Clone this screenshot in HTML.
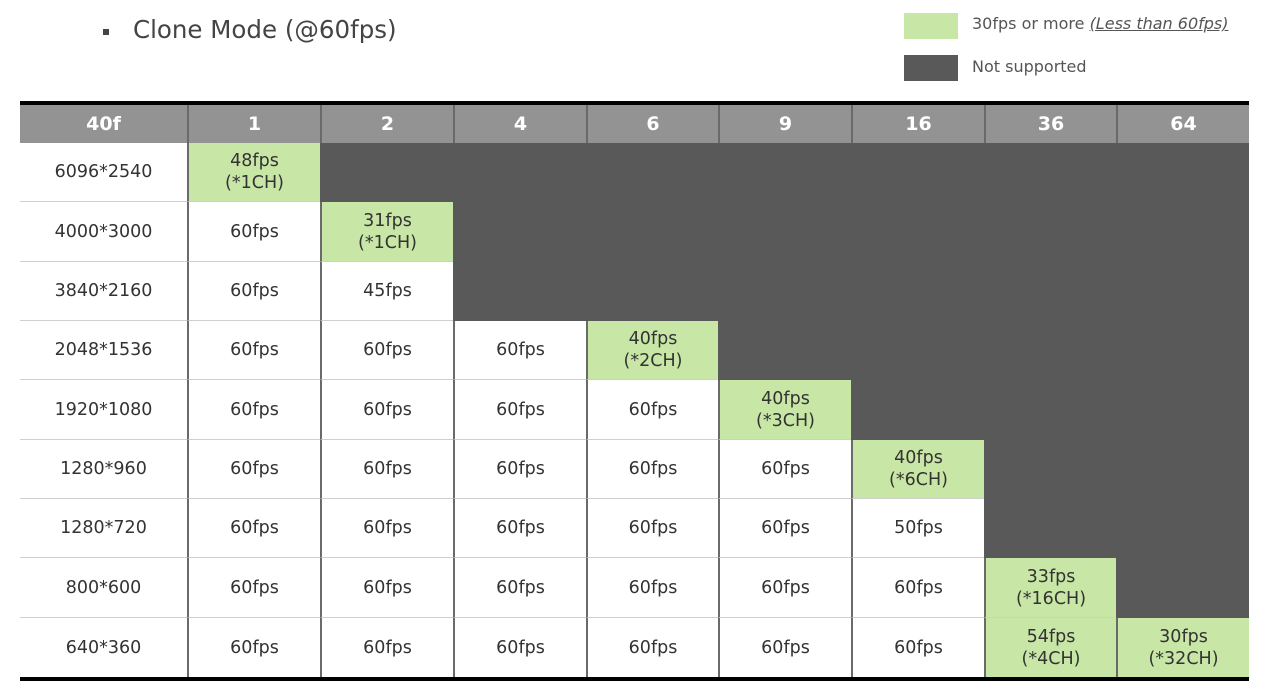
<!DOCTYPE html>
<html><head><meta charset="utf-8"><style>
body{margin:0;width:1262px;height:690px;background:#fff;font-family:"DejaVu Sans","Liberation Sans",sans-serif;position:relative;overflow:hidden}
.a{position:absolute}
.c{position:absolute;display:flex;align-items:center;justify-content:center;text-align:center;color:#333;font-size:17.5px;line-height:22px;box-sizing:border-box}
.h{background:#939393;color:#fff;font-weight:bold;font-size:19px}
</style></head><body>
<div class="a" style="left:103px;top:29px;width:6px;height:6px;background:#444"></div>
<div class="a" style="left:133px;top:15px;font-size:24.5px;color:#444">Clone Mode (@60fps)</div>
<div class="a" style="left:904px;top:13px;width:54px;height:26px;background:#c8e6a5"></div>
<div class="a" style="left:972px;top:14px;font-size:16px;color:#555">30fps or more <i style="text-decoration:underline">(Less than 60fps)</i></div>
<div class="a" style="left:904px;top:55px;width:54px;height:26px;background:#595959"></div>
<div class="a" style="left:972px;top:57px;font-size:16px;color:#555">Not supported</div>
<div id="t"></div>
<script>
var X=[20,187,320,453,586,718,851,984,1116,1249];
var Y=[143,202,262,321,380,440,499,558,618,677];
var H=["40f","1","2","4","6","9","16","36","64"];
var R=[["6096*2540","g48fps<br>(*1CH)"],["4000*3000","60fps","g31fps<br>(*1CH)"],["3840*2160","60fps","45fps"],
["2048*1536","60fps","60fps","60fps","g40fps<br>(*2CH)"],["1920*1080","60fps","60fps","60fps","60fps","g40fps<br>(*3CH)"],
["1280*960","60fps","60fps","60fps","60fps","60fps","g40fps<br>(*6CH)"],["1280*720","60fps","60fps","60fps","60fps","60fps","50fps"],
["800*600","60fps","60fps","60fps","60fps","60fps","60fps","g33fps<br>(*16CH)"],["640*360","60fps","60fps","60fps","60fps","60fps","60fps","g54fps<br>(*4CH)","g30fps<br>(*32CH)"]];
var s='<div class="a" style="left:20px;top:101px;width:1229px;height:4px;background:#000"></div>';
s+='<div class="a" style="left:20px;top:677px;width:1229px;height:4px;background:#000"></div>';
for(var i=0;i<9;i++){s+='<div class="c h" style="left:'+X[i]+'px;top:105px;width:'+(X[i+1]-X[i])+'px;height:38px;'+(i?'border-left:2px solid #6a6a6a':'')+'">'+H[i]+'</div>';}
for(var r=0;r<9;r++)for(var i=0;i<9;i++){var v=R[r][i],bg='#fff',dark=false;
if(v===undefined){bg='#595959';dark=true;v='';}else if(v[0]=='g'){bg='#c8e6a5';v=v.slice(1);}
var st='left:'+X[i]+'px;top:'+Y[r]+'px;width:'+(X[i+1]-X[i])+'px;height:'+(Y[r+1]-Y[r])+'px;background:'+bg+';';
if(!dark){if(i)st+='border-left:2px solid #6a6a6a;';if(r<8)st+='border-bottom:1px solid #cfcfcf;';}
s+='<div class="c" style="'+st+'">'+v+'</div>';}
document.getElementById('t').innerHTML=s;
</script>
</body></html>
